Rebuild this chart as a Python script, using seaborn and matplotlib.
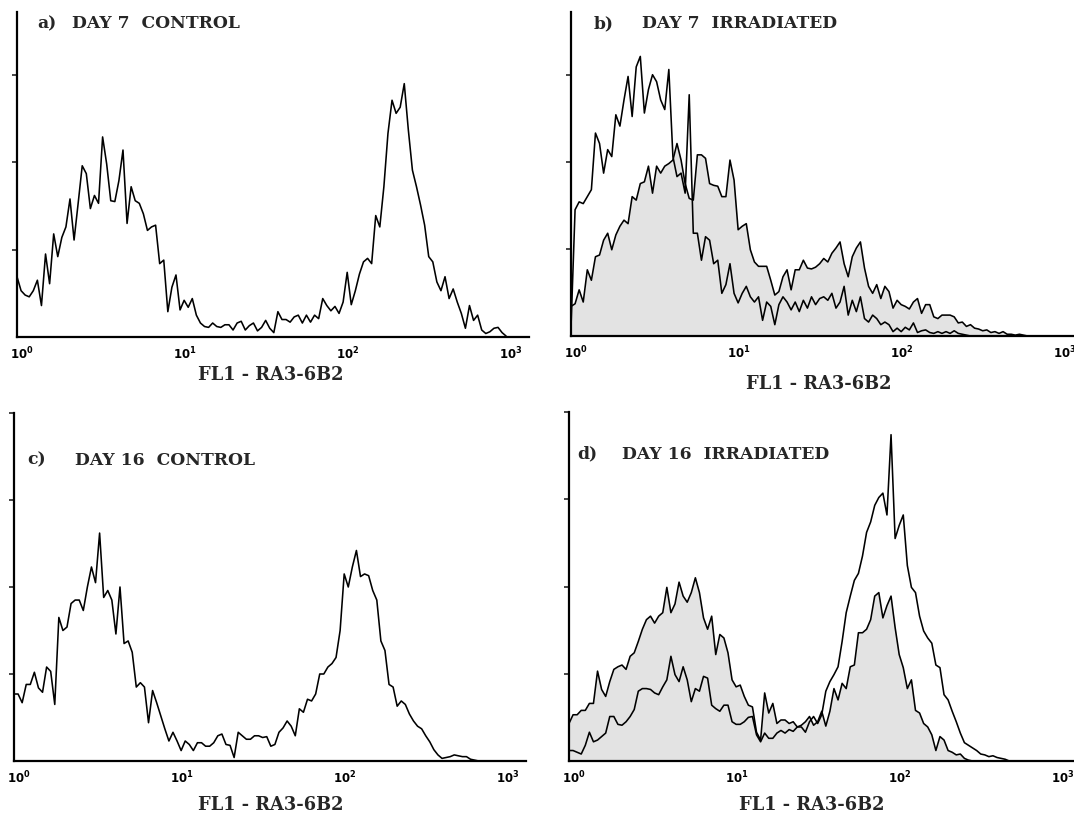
import numpy as np
import matplotlib
matplotlib.use("Agg")
import matplotlib.pyplot as plt
import matplotlib.transforms as mtransforms
from matplotlib.ticker import LogLocator, NullFormatter
import seaborn as sns

# histogram channel width, in decades of FL1
step = 0.025

# a) day 7 control
a_counts = [69, 53, 48, 46, 53, 65, 36, 95, 61, 118,
            92, 114, 126, 158, 111, 153, 196, 187, 147, 162,
            153, 229, 198, 156, 155, 179, 214, 130, 172, 156,
            153, 141, 122, 126, 128, 84, 88, 29, 57, 71,
            31, 42, 34, 44, 25, 16, 12, 11, 16, 12,
            11, 14, 14, 8, 16, 18, 8, 13, 16, 7,
            11, 19, 10, 5, 29, 20, 20, 17, 23, 25,
            16, 25, 17, 25, 21, 44, 36, 30, 35, 27,
            40, 74, 37, 53, 72, 86, 90, 84, 139, 126,
            172, 233, 271, 256, 263, 290, 237, 191, 172, 151,
            128, 92, 86, 63, 53, 69, 44, 55, 40, 27,
            10, 36, 19, 25, 8, 4, 6, 10, 11, 5,
            1]

# b) day 7 irradiated (open trace and shaded trace)
b_open = [10, 145, 154, 152, 160, 168, 233, 221, 187, 214,
          206, 254, 241, 271, 298, 252, 309, 321, 256, 283,
          300, 292, 271, 260, 306, 206, 183, 187, 164, 277,
          118, 118, 87, 114, 110, 83, 87, 49, 59, 83,
          49, 38, 49, 57, 45, 39, 45, 18, 39, 34,
          13, 36, 45, 39, 30, 39, 28, 41, 32, 45,
          36, 43, 45, 41, 49, 32, 39, 57, 24, 41,
          28, 45, 20, 16, 24, 20, 13, 16, 13, 5,
          9, 5, 10, 7, 15, 4, 6, 7, 4, 3,
          5, 3, 5, 3, 6, 3, 2, 1, 0]
b_shaded = [34, 37, 53, 39, 76, 64, 91, 93, 110, 118,
            99, 116, 126, 133, 129, 160, 156, 175, 177, 195,
            164, 195, 187, 195, 198, 202, 221, 202, 175, 158,
            156, 208, 208, 204, 175, 173, 172, 160, 160, 202,
            179, 122, 126, 129, 99, 85, 80, 80, 80, 64,
            47, 51, 68, 76, 53, 76, 76, 87, 78, 77,
            79, 83, 89, 85, 95, 101, 108, 83, 68, 91,
            101, 108, 78, 57, 49, 59, 43, 57, 51, 32,
            41, 36, 34, 31, 39, 43, 26, 36, 36, 22,
            20, 24, 24, 24, 22, 15, 16, 11, 13, 9,
            8, 6, 7, 4, 5, 3, 5, 2, 2, 1,
            2, 1, 0]

# c) day 16 control
c_counts = [77, 77, 67, 88, 88, 102, 84, 79, 108, 103,
            65, 165, 150, 154, 181, 185, 185, 173, 200, 223,
            205, 262, 188, 196, 185, 146, 200, 135, 138, 125,
            85, 90, 85, 44, 81, 67, 52, 37, 23, 33,
            23, 12, 23, 19, 12, 21, 21, 17, 17, 21,
            29, 31, 19, 18, 4, 33, 29, 25, 25, 29,
            29, 27, 28, 17, 19, 33, 38, 46, 40, 29,
            60, 56, 71, 69, 77, 100, 100, 108, 112, 119,
            150, 215, 200, 223, 242, 212, 215, 213, 196, 185,
            138, 127, 88, 85, 63, 69, 65, 54, 46, 40,
            37, 29, 22, 13, 7, 3, 4, 5, 7, 6,
            5, 5, 2, 1, 0]

# d) day 16 irradiated (open trace and shaded trace)
d_open = [12, 12, 10, 8, 18, 33, 22, 24, 28, 32,
          51, 51, 42, 41, 45, 51, 59, 80, 83, 83,
          82, 78, 76, 85, 93, 120, 99, 91, 108, 93,
          68, 83, 80, 97, 95, 64, 60, 57, 64, 64,
          45, 42, 42, 45, 50, 51, 30, 22, 32, 26,
          26, 32, 35, 32, 36, 34, 39, 39, 33, 45,
          51, 43, 53, 80, 91, 99, 108, 137, 170, 189,
          207, 215, 235, 262, 274, 293, 302, 307, 282, 374,
          255, 270, 282, 224, 199, 193, 166, 149, 141, 135,
          110, 107, 76, 70, 57, 45, 32, 21, 18, 15,
          12, 8, 7, 5, 6, 4, 3, 2, 0]
d_shaded = [43, 53, 53, 58, 58, 66, 66, 103, 82, 74,
            91, 105, 108, 110, 105, 120, 124, 137, 151, 162,
            166, 158, 166, 170, 199, 170, 180, 205, 189, 182,
            193, 210, 193, 164, 151, 166, 122, 145, 141, 124,
            93, 85, 87, 74, 64, 62, 33, 24, 78, 55,
            66, 43, 47, 47, 43, 45, 39, 41, 45, 51,
            41, 45, 57, 40, 57, 83, 70, 89, 83, 108,
            110, 147, 147, 151, 162, 189, 193, 164, 178, 189,
            153, 122, 107, 83, 93, 58, 55, 43, 39, 30,
            12, 28, 24, 12, 10, 7, 8, 3, 1, 0]

tick_labels = [r'$\mathbf{10^{0}}$', r'$\mathbf{10^{1}}$',
               r'$\mathbf{10^{2}}$', r'$\mathbf{10^{3}}$']
xlabel = 'FL1 - RA3-6B2'

sns.set_style("white")
plt.rcParams['font.family'] = ['DejaVu Serif', 'DejaVu Sans']
plt.rcParams['mathtext.fontset'] = 'dejavusans'

W, H = 1074, 813
fig = plt.figure(figsize=(W / 100, H / 100), dpi=100)


def fl1(counts):
    return 10 ** (step * np.arange(len(counts)))


panels = [
    dict(box=(17, 12, 512, 325), ymax=372, yticks=[100, 200, 300],
         shaded=None, lines=[a_counts],
         tag=('a)', 37, 24), title=('DAY 7  CONTROL', 72), lab=(271, 375)),
    dict(box=(571, 12, 512, 324), ymax=372, yticks=[100, 200, 300],
         shaded=b_shaded, lines=[b_open, b_shaded],
         tag=('b)', 594, 24), title=('DAY 7  IRRADIATED', 642), lab=(819, 384)),
    dict(box=(14, 413, 512, 348), ymax=400, yticks=[100, 200, 300, 400],
         shaded=None, lines=[c_counts],
         tag=('c)', 27, 460), title=('DAY 16  CONTROL', 75), lab=(271, 805)),
    dict(box=(569, 412, 512, 349), ymax=400, yticks=[100, 200, 300, 400],
         shaded=d_shaded, lines=[d_open, d_shaded],
         tag=('d)', 577, 454), title=('DAY 16  IRRADIATED', 622), lab=(812, 805)),
]

shift = mtransforms.ScaledTranslation(5 / 100, 0, fig.dpi_scale_trans)

for p in panels:
    left, top, w, h = p['box']
    ax = fig.add_axes([left / W, 1 - (top + h) / H, w / W, h / H])
    ax.set_facecolor('white')

    if p['shaded'] is not None:
        ax.fill_between(fl1(p['shaded']), 0, p['shaded'], color='#e3e3e3', lw=0, zorder=1)
    for counts in p['lines']:
        sns.lineplot(x=fl1(counts), y=counts, ax=ax, color='black', linewidth=1.15,
                     estimator=None, sort=False, legend=False, zorder=2)

    ax.set_xscale('log')
    ax.set_xlim(1, 10 ** 3.14)
    ax.set_ylim(0, p['ymax'])
    ax.set_xticks([1, 10, 100, 1000], labels=tick_labels)
    ax.xaxis.set_minor_locator(LogLocator(base=10, subs=np.arange(2, 10)))
    ax.xaxis.set_minor_formatter(NullFormatter())
    ax.set_yticks(p['yticks'])
    ax.set_yticklabels([])
    ax.set_xlabel('')
    ax.set_ylabel('')

    ax.tick_params(axis='x', which='major', direction='out', length=4, width=1.2,
                   labelsize=8.5, pad=2, colors='black')
    ax.tick_params(axis='x', which='minor', direction='out', length=2.5, width=1.0)
    ax.tick_params(axis='y', direction='out', length=3.5, width=1.2, left=True)
    for lab in ax.get_xticklabels():
        lab.set_transform(lab.get_transform() + shift)

    for side in ('top', 'right'):
        ax.spines[side].set_visible(False)
    for side in ('left', 'bottom'):
        ax.spines[side].set_color('black')
        ax.spines[side].set_linewidth(1.6)

    tag, tx, ty = p['tag']
    title, ttx = p['title']
    fig.text(tx / W, 1 - ty / H, tag, fontsize=12.3, fontweight='bold', va='center', ha='left')
    fig.text(ttx / W, 1 - ty / H, title, fontsize=12.3, fontweight='bold', va='center', ha='left')
    lx, ly = p['lab']
    fig.text(lx / W, 1 - ly / H, xlabel, fontsize=12.8, fontweight='bold', va='center', ha='center')

fig.savefig('out.png', dpi=100, facecolor='white')
